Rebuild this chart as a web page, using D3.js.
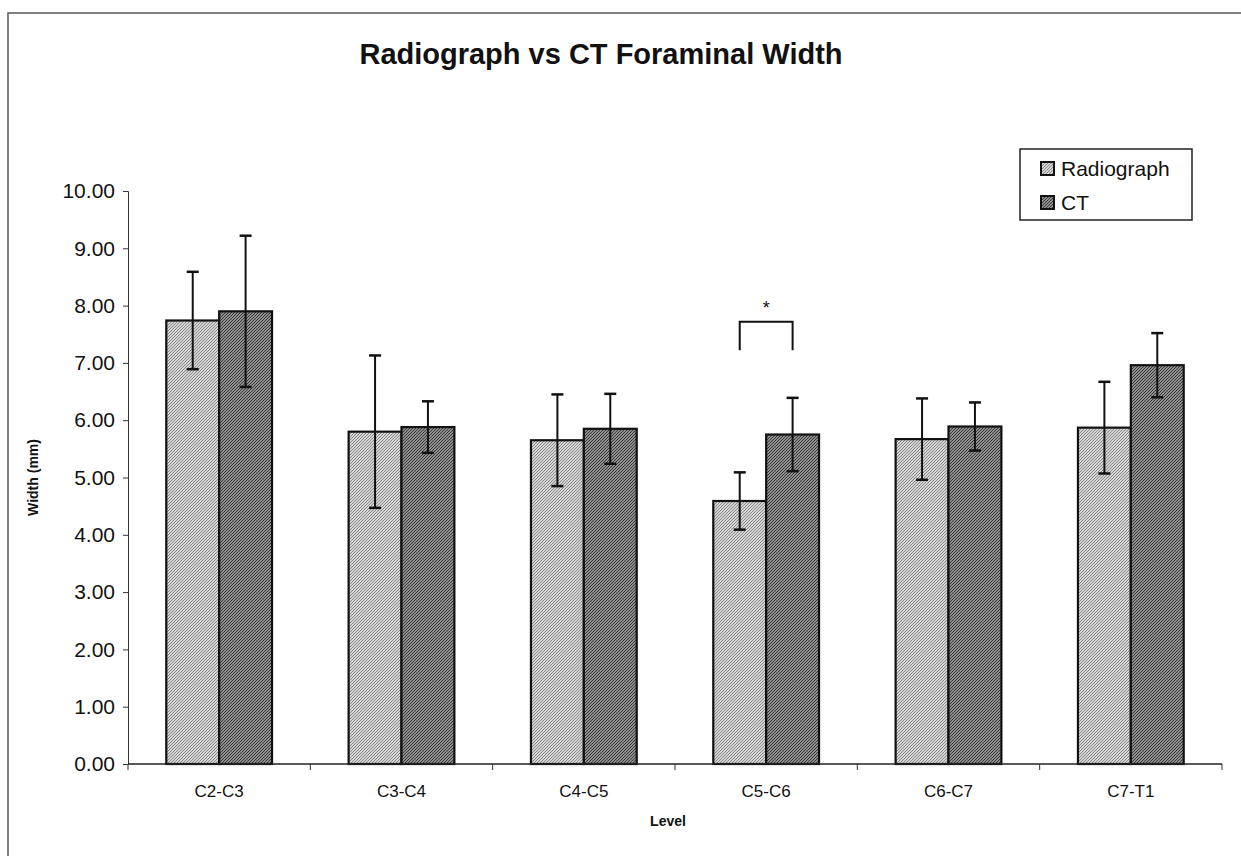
<!DOCTYPE html>
<html lang="en">
<head>
<meta charset="UTF-8">
<title>Radiograph vs CT Foraminal Width</title>
<script src="https://cdn.jsdelivr.net/npm/d3@7"></script>
<style>
  body { margin: 0; background: #fff; }
  text { font-family: "Liberation Sans", Arial, sans-serif; }
</style>
</head>
<body>
<script>

var w = 1241, h = 856;

// data
var levels = ["C2-C3", "C3-C4", "C4-C5", "C5-C6", "C6-C7", "C7-T1"];
var seriesNames = ["Radiograph", "CT"];
var radiograph = [7.74, 5.80, 5.65, 4.59, 5.67, 5.87];
var radiographSd = [0.85, 1.33, 0.80, 0.50, 0.71, 0.80];
var ct = [7.90, 5.88, 5.85, 5.75, 5.89, 6.96];
var ctSd = [1.32, 0.45, 0.61, 0.64, 0.42, 0.56];
var yTicks = [0, 1, 2, 3, 4, 5, 6, 7, 8, 9, 10];

var margin = {top: 191, left: 128, right: 19, bottom: 92};

var svg = d3.select("body").append("svg")
    .attr("width", w)
    .attr("height", h);

// textures for the bars
var defs = svg.append("defs");
function texture(id, base, line) {
    var p = defs.append("pattern")
        .attr("id", id)
        .attr("patternUnits", "userSpaceOnUse")
        .attr("width", 3).attr("height", 3);
    p.append("rect").attr("width", 3).attr("height", 3).attr("fill", base);
    p.append("rect").attr("width", 1).attr("height", 1).attr("fill", line);
    p.append("rect").attr("x", 2).attr("y", 1).attr("width", 1).attr("height", 1).attr("fill", line);
    p.append("rect").attr("x", 1).attr("y", 2).attr("width", 1).attr("height", 1).attr("fill", line);
}
texture("texRad", "#d2d2d2", "#8e8e8e");
texture("texCt", "#8c8c8c", "#3e3e3e");
var fills = {Radiograph: "url(#texRad)", CT: "url(#texCt)"};

// outer frame
svg.append("path")
    .attr("d", "M8," + (h + 2) + " L8,13 L" + (w + 2) + ",13")
    .attr("fill", "none")
    .attr("stroke", "#555")
    .attr("stroke-width", 1.5);

var x = d3.scaleBand()
    .domain(levels)
    .range([margin.left, w - margin.right])
    .paddingInner(0.42)
    .paddingOuter(0.21);

var xSub = d3.scaleBand()
    .domain(seriesNames)
    .range([0, x.bandwidth()]);

var y = d3.scaleLinear()
    .domain([0, 10])
    .range([h - margin.bottom, margin.top]);

var rows = [];
levels.forEach(function(l, i) {
    rows.push({level: l, series: "Radiograph", value: radiograph[i], sd: radiographSd[i]});
    rows.push({level: l, series: "CT", value: ct[i], sd: ctSd[i]});
});

// bars
svg.append("g").selectAll("rect")
    .data(rows)
    .enter()
    .append("rect")
    .attr("x", function(d) { return x(d.level) + xSub(d.series); })
    .attr("y", function(d) { return y(d.value); })
    .attr("width", xSub.bandwidth())
    .attr("height", function(d) { return y(0) - y(d.value); })
    .attr("fill", function(d) { return fills[d.series]; })
    .attr("stroke", "#111")
    .attr("stroke-width", 2.2);

// error bars
var err = svg.append("g").attr("stroke", "#111").attr("stroke-width", 2);
rows.forEach(function(d) {
    var cx = x(d.level) + xSub(d.series) + xSub.bandwidth() / 2;
    var y1 = y(d.value + d.sd), y0 = y(d.value - d.sd);
    err.append("line").attr("x1", cx).attr("x2", cx).attr("y1", y1).attr("y2", y0);
    err.append("line").attr("x1", cx - 6).attr("x2", cx + 6).attr("y1", y1).attr("y2", y1).attr("stroke-width", 2.5);
    err.append("line").attr("x1", cx - 6).attr("x2", cx + 6).attr("y1", y0).attr("y2", y0).attr("stroke-width", 2.5);
});

// y axis
var yAxis = svg.append("g")
    .attr("transform", "translate(" + margin.left + ",0)")
    .call(d3.axisLeft(y).tickValues(yTicks).tickSize(5).tickPadding(8)
        .tickFormat(d3.format(".2f")));
yAxis.selectAll("text").attr("font-size", 21).attr("fill", "#111")
    .style("font-family", "'Liberation Sans', Arial, sans-serif");
yAxis.selectAll("line, path").attr("stroke", "#333");

// x axis with ticks between categories
var xAxisG = svg.append("g")
    .attr("transform", "translate(0," + y(0) + ")");
xAxisG.append("line")
    .attr("x1", margin.left).attr("x2", w - margin.right)
    .attr("stroke", "#222").attr("stroke-width", 1.5);
var bounds = d3.range(levels.length + 1).map(function(i) { return margin.left + i * (w - margin.right - margin.left) / levels.length; });
xAxisG.selectAll("line.tick")
    .data(bounds)
    .enter()
    .append("line")
    .attr("class", "tick")
    .attr("x1", function(d) { return d; })
    .attr("x2", function(d) { return d; })
    .attr("y1", 0).attr("y2", 6)
    .attr("stroke", "#333");
xAxisG.selectAll("text")
    .data(levels)
    .enter()
    .append("text")
    .attr("x", function(d) { return x(d) + x.bandwidth() / 2; })
    .attr("y", 33)
    .attr("text-anchor", "middle")
    .attr("font-size", 17)
    .attr("fill", "#111")
    .text(function(d) { return d; });

// titles
svg.append("text")
    .attr("x", 601).attr("y", 64)
    .attr("text-anchor", "middle")
    .attr("font-size", 29)
    .attr("font-weight", "bold")
    .attr("fill", "#111")
    .text("Radiograph vs CT Foraminal Width");

svg.append("text")
    .attr("transform", "translate(38," + y(5) + ") rotate(-90)")
    .attr("text-anchor", "middle")
    .attr("font-size", 14)
    .attr("font-weight", "bold")
    .attr("fill", "#111")
    .text("Width (mm)");

svg.append("text")
    .attr("x", 668).attr("y", 826)
    .attr("text-anchor", "middle")
    .attr("font-size", 14)
    .attr("font-weight", "bold")
    .attr("fill", "#111")
    .text("Level");

// significance bracket over C5-C6
var c56 = x("C5-C6");
var bx0 = c56 + xSub("Radiograph") + xSub.bandwidth() / 2;
var bx1 = c56 + xSub("CT") + xSub.bandwidth() / 2;
svg.append("path")
    .attr("d", "M" + bx0 + "," + y(7.22) + " V" + y(7.72) + " H" + bx1 + " V" + y(7.22))
    .attr("fill", "none")
    .attr("stroke", "#111")
    .attr("stroke-width", 2);
svg.append("text")
    .attr("x", (bx0 + bx1) / 2).attr("y", y(7.72) - 8)
    .attr("text-anchor", "middle")
    .attr("font-size", 18)
    .attr("fill", "#111")
    .text("*");

// legend
var legend = svg.append("g").attr("transform", "translate(1020,149)");
legend.append("rect")
    .attr("width", 172).attr("height", 71)
    .attr("fill", "#fff")
    .attr("stroke", "#222").attr("stroke-width", 1.5);
var items = legend.selectAll("g.item")
    .data(seriesNames)
    .enter()
    .append("g")
    .attr("class", "item")
    .attr("transform", function(d, i) { return "translate(21," + (20 + i * 34) + ")"; });
items.append("rect")
    .attr("y", -7)
    .attr("width", 13).attr("height", 13)
    .attr("fill", function(d) { return fills[d]; })
    .attr("stroke", "#111").attr("stroke-width", 2);
items.append("text")
    .attr("x", 20).attr("y", 7)
    .attr("font-size", 21)
    .attr("fill", "#111")
    .text(function(d) { return d; });

</script>
</body>
</html>
